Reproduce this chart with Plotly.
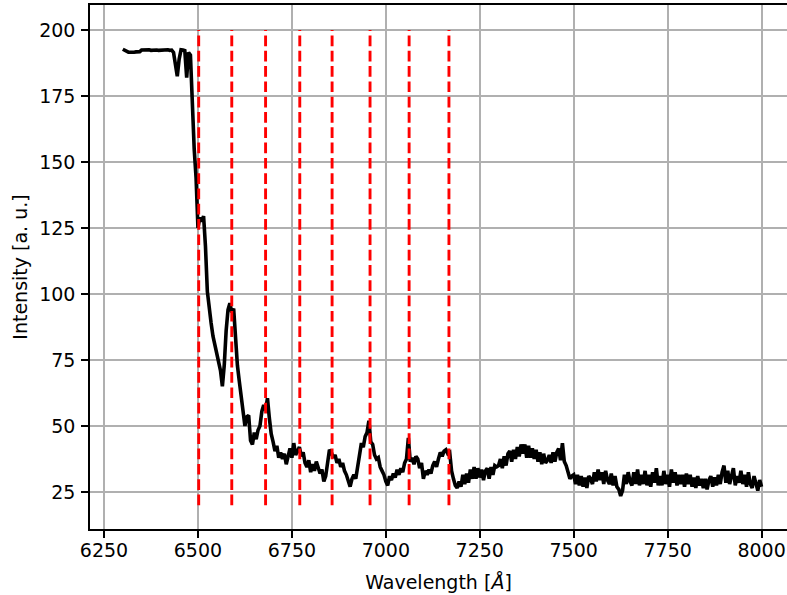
import plotly.graph_objects as go

# Spectrum sampled every 5 Å from 6300 to 8000 Å
wl_start = 6300
wl_step = 5
intensity = [
    192.7, 192.2, 191.7, 191.6, 191.6, 191.5, 191.6, 191.7, 191.6, 191.8,  # 6300
    192.4, 192.5, 192.3, 192.4, 192.5, 192.3, 192.4, 192.5, 192.4, 192.3,  # 6350
    192.4, 192.5, 192.3, 192.4, 192.5, 192.3, 192.4, 191.5, 186.0, 182.5,  # 6400
    189.0, 192.5, 192.4, 192.2, 182.0, 191.5, 190.5, 170.0, 155.0, 144.0,  # 6450
    125.0, 129.0, 127.5, 129.5, 118.0, 101.0, 94.0, 89.0, 84.0, 80.5,      # 6500
    77.0, 74.0, 71.0, 65.0, 73.0, 86.0, 94.0, 96.5, 93.0, 94.5,            # 6550
    81.0, 73.0, 67.0, 61.0, 57.0, 50.0, 53.5, 54.0, 44.5, 43.0,            # 6600
    47.5, 45.0, 48.5, 50.0, 55.5, 58.0, 56.0, 60.5, 53.0, 47.0,            # 6650
    44.0, 40.5, 42.5, 38.0, 40.0, 37.5, 39.5, 35.5, 38.5, 41.5,            # 6700
    38.0, 43.5, 39.0, 41.0, 42.0, 38.5, 40.0, 36.0, 34.5, 37.0,            # 6750
    32.5, 35.5, 33.0, 36.5, 34.0, 32.0, 33.5, 29.0, 31.0, 35.5,            # 6800
    41.0, 40.0, 38.0, 39.0, 36.0, 37.5, 34.5, 36.0, 33.0, 31.5,            # 6850
    29.5, 27.0, 30.0, 31.5, 30.0, 34.0, 39.0, 43.5, 42.0, 46.0,            # 6900
    47.5, 52.0, 44.0, 43.0, 39.0, 37.5, 38.0, 34.5, 33.0, 31.5,            # 6950
    29.0, 27.5, 31.0, 29.5, 32.0, 30.5, 33.5, 31.5, 34.0, 32.5,            # 7000
    36.0, 37.5, 45.5, 36.5, 38.0, 35.5, 38.5, 37.5, 34.0, 36.0,            # 7050
    30.0, 33.0, 31.5, 33.5, 32.0, 35.0, 36.5, 34.5, 37.5, 40.0,            # 7100
    38.5, 40.5, 41.0, 39.5, 40.0, 33.0, 30.0, 27.5, 26.5, 29.0,            # 7150
    27.0, 31.5, 28.0, 32.0, 28.5, 33.5, 30.0, 34.5, 30.0, 34.0,            # 7200
    30.5, 33.5, 29.5, 33.0, 34.0, 30.0, 34.5, 31.5, 35.0, 34.5,            # 7250
    35.0, 37.5, 34.0, 38.5, 35.0, 39.5, 40.5, 36.5, 41.0, 37.5,            # 7300
    42.0, 38.5, 43.0, 39.5, 43.0, 38.0, 42.5, 38.0, 41.5, 37.5,            # 7350
    41.0, 36.5, 40.0, 35.5, 39.5, 36.0, 37.0, 39.0, 36.0, 40.0,            # 7400
    36.5, 40.0, 41.5, 37.0, 43.5, 36.5, 35.0, 32.5, 30.0, 31.0,            # 7450
    31.5, 28.0, 31.5, 27.5, 31.0, 27.0, 30.5, 26.5, 31.0, 30.0,            # 7500
    28.0, 32.5, 29.0, 33.5, 29.5, 32.5, 28.0, 33.0, 29.5, 28.0,            # 7550
    32.0, 27.5, 31.0, 27.0, 26.0, 23.5, 25.5, 31.5, 28.0, 32.5,            # 7600
    29.0, 27.5, 32.5, 28.0, 33.5, 27.5, 31.5, 28.0, 33.0, 27.5,            # 7650
    31.5, 27.0, 32.5, 28.5, 34.0, 27.5, 31.0, 27.5, 33.0, 28.0,            # 7700
    31.5, 27.0, 33.5, 28.5, 32.5, 27.5, 31.5, 28.0, 31.5, 27.0,            # 7750
    32.0, 28.0, 31.5, 27.0, 30.5, 26.5, 31.0, 27.5, 30.0, 26.5,            # 7800
    30.0, 26.0, 29.5, 31.0, 27.0, 30.5, 27.5, 31.5, 28.0, 32.5,            # 7850
    35.0, 28.5, 33.0, 28.0, 31.5, 34.0, 27.5, 31.0, 28.5, 33.0,            # 7900
    28.0, 31.5, 27.0, 32.5, 28.0, 26.5, 31.0, 27.5, 25.5, 29.5,            # 7950
    27.0,                                                                  # 8000
]
wavelength = [wl_start + wl_step * i for i in range(len(intensity))]

# Marked line positions (Å) and the vertical extent of the markers
line_positions = [6502, 6590, 6680, 6771, 6857, 6958, 7062, 7168]
marker_range = [20, 200]

x_ticks = [6250, 6500, 6750, 7000, 7250, 7500, 7750, 8000]
y_ticks = [25, 50, 75, 100, 125, 150, 175, 200]

fig = go.Figure()
fig.add_trace(go.Scatter(
    x=wavelength, y=intensity, mode="lines",
    line=dict(color="black", width=3.6), showlegend=False, hoverinfo="skip",
))

mx, my = [], []
for p in line_positions:
    mx += [p, p, None]
    my += [marker_range[0], marker_range[1], None]
fig.add_trace(go.Scatter(
    x=mx, y=my, mode="lines",
    line=dict(color="red", width=2.9, dash="10.7px,4.6px"),
    showlegend=False, hoverinfo="skip",
))

font = dict(family="DejaVu Sans", size=19, color="black")
fig.update_layout(
    width=787, height=595,
    margin=dict(l=90, r=0, t=5, b=66),
    paper_bgcolor="white", plot_bgcolor="white",
    font=font,
)
fig.update_xaxes(
    range=[6212.7, 8067.7], tickvals=x_ticks, ticktext=[str(v) for v in x_ticks],
    showgrid=True, gridcolor="#b0b0b0", gridwidth=1.5,
    showline=True, linecolor="black", linewidth=1.5, mirror=True,
    ticks="outside", ticklen=7, tickwidth=1.5, tickcolor="black",
    ticklabelstandoff=-4,
    zeroline=False, automargin=False,
    title=dict(text="Wavelength [<i>Å</i>]", font=font, standoff=16),
)
fig.update_yaxes(
    range=[10.98, 209.47], tickvals=y_ticks, ticktext=[str(v) for v in y_ticks],
    showgrid=True, gridcolor="#b0b0b0", gridwidth=1.5,
    showline=True, linecolor="black", linewidth=1.5, mirror=False,
    ticks="outside", ticklen=7, tickwidth=1.5, tickcolor="black",
    ticklabelstandoff=2,
    zeroline=False, automargin=False,
    title=dict(text="Intensity [a. u.]", font=font, standoff=7),
)

fig.write_html(
    "out.html",
    config={"displayModeBar": False},
    post_script="document.body.style.margin='0';document.body.style.overflow='hidden';",
)
